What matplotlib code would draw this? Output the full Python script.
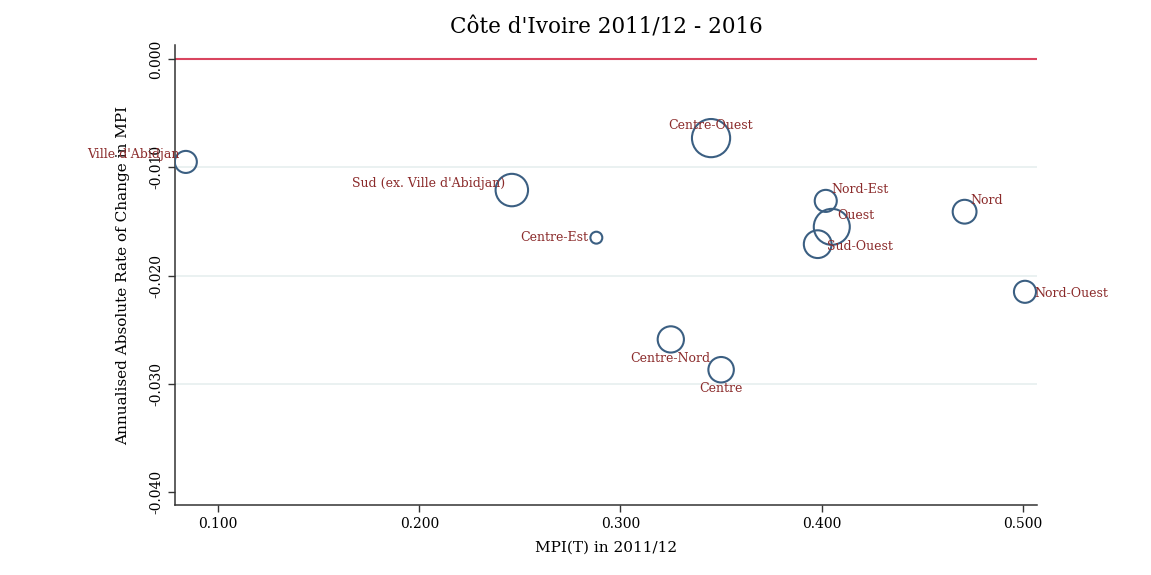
import numpy as np
import matplotlib.pyplot as plt

# Regions of Côte d'Ivoire: MPI in 2011/12 vs annualised absolute change
regions = ["Ville d'Abidjan", "Sud (ex. Ville d'Abidjan)", "Centre-Est", "Centre-Ouest",
           "Nord-Est", "Ouest", "Sud-Ouest", "Nord", "Nord-Ouest", "Centre-Nord", "Centre"]
mpi_2011 = [0.084, 0.246, 0.288, 0.345, 0.402, 0.405, 0.398, 0.471, 0.501, 0.325, 0.350]
abs_change = [-0.0095, -0.0121, -0.0165, -0.0073, -0.0131, -0.0155, -0.0171,
              -0.0141, -0.0215, -0.0259, -0.0287]
pop_weight = [1.2, 2.6, 0.35, 3.6, 1.2, 3.2, 1.9, 1.4, 1.2, 1.7, 1.6]

# label position, Stata-like clock positions
label_pos = [10, 10, 9, 12, 1, 1, 3, 1, 3, 6, 6]

y_ticks = [0.0, -0.01, -0.02, -0.03, -0.04]
x_ticks = [0.1, 0.2, 0.3, 0.4, 0.5]

plt.rcParams['font.family'] = ['DejaVu Serif']

fig = plt.figure(figsize=(11.51, 5.75), dpi=100)
ax = fig.add_axes([0.152, 0.1217, 0.749, 0.80])

for y in y_ticks[1:-1]:
    ax.axhline(y, color='#e6efef', lw=1.2, zorder=0)
ax.axhline(0, color='#d9455f', lw=1.5, zorder=1)

ax.scatter(mpi_2011, abs_change, s=np.array(pop_weight) * 210, facecolors='none',
           edgecolors='#3b5f82', linewidths=1.5, zorder=3)

# offsets in points from marker centre
offsets = {10: ((-4.5, 5), 'right'),
           9: ((-5.5, 0), 'right'),
           12: ((0, 9), 'center'),
           1: ((4, 8), 'left'),
           3: ((6.5, -1.5), 'left'),
           6: ((0, -13.5), 'center')}
for name, x, y, pos in zip(regions, mpi_2011, abs_change, label_pos):
    (dx, dy), ha = offsets[pos]
    ax.annotate(name, (x, y), xytext=(dx, dy), textcoords='offset points',
                ha=ha, va='center', fontsize=9, color='#8b2b2b', zorder=4)

ax.set_xlim(0.0786, 0.507)
ax.set_ylim(-0.0412, 0.0013)
ax.set_xticks(x_ticks)
ax.set_xticklabels([f"{v:.3f}" for v in x_ticks])
ax.set_yticks(y_ticks)
ax.set_yticklabels([f"{v:.3f}" for v in y_ticks], rotation=90, va='center')
ax.tick_params(labelsize=10, length=5, color='#333333', width=1.0)

for s in ['top', 'right']:
    ax.spines[s].set_visible(False)
for s in ['left', 'bottom']:
    ax.spines[s].set_color('#333333')
    ax.spines[s].set_linewidth(1.1)

ax.set_xlabel("MPI(T) in 2011/12", fontsize=11, labelpad=7)
ax.set_ylabel("Annualised Absolute Rate of Change in MPI", fontsize=11)
ax.yaxis.set_label_coords(-0.052, 0.5)
ax.set_title("Côte d'Ivoire 2011/12 - 2016", fontsize=15.5, pad=8)

fig.savefig("out.png", dpi=100)
